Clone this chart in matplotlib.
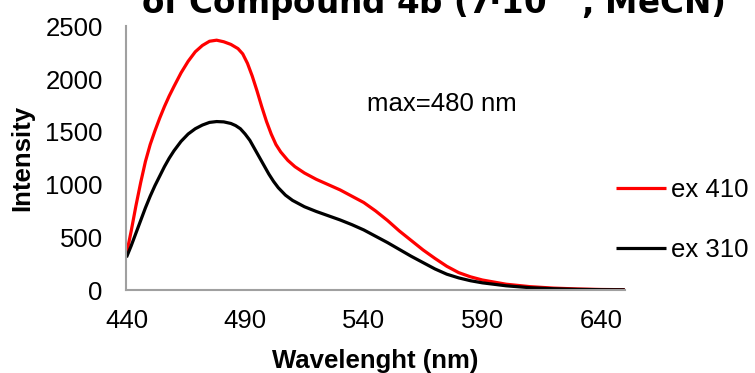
import matplotlib
matplotlib.use("Agg")
import matplotlib.pyplot as plt

plt.rcParams['font.family'] = ['Liberation Sans', 'DejaVu Sans']

wl_410 = [440, 442, 444, 446, 448, 450, 452, 454, 456, 458, 460, 463, 466, 469, 472,
          475, 478, 481, 484, 487, 489, 491, 493, 495, 497, 499, 501, 503, 505, 508,
          511, 515, 520, 525, 530, 535, 540, 545, 550, 555, 560, 565, 570, 575, 580,
          585, 590, 600, 610, 620, 630, 640, 650]
ex_410 = [340, 560, 800, 1020, 1220, 1380, 1510, 1630, 1740, 1840, 1930, 2060, 2170, 2260, 2320,
          2360, 2370, 2355, 2330, 2290, 2240, 2150, 2030, 1890, 1740, 1600, 1480, 1380, 1310, 1230,
          1170, 1110, 1050, 1000, 950, 890, 830, 750, 660, 560, 470, 380, 300, 225, 165,
          125, 95, 55, 32, 18, 10, 5, 3]

wl_310 = [440, 442, 444, 446, 448, 450, 452, 454, 456, 458, 460, 463, 466, 469, 472,
          475, 478, 481, 484, 486, 488, 490, 492, 494, 496, 498, 500, 502, 504, 507,
          510, 515, 520, 525, 530, 535, 540, 545, 550, 555, 560, 565, 570, 575, 580,
          585, 590, 600, 610, 620, 630, 640, 650]
ex_310 = [310, 420, 540, 660, 780, 890, 990, 1080, 1170, 1250, 1320, 1410, 1480, 1530, 1565,
          1590, 1598, 1595, 1580, 1560, 1530, 1480, 1420, 1340, 1260, 1180, 1100, 1030, 970, 900,
          850, 790, 745, 705, 665, 620, 570, 510, 450, 385, 320, 260, 200, 150, 115,
          88, 68, 40, 22, 12, 6, 3, 2]

x_ticks = [440, 490, 540, 590, 640]
y_ticks = [0, 500, 1000, 1500, 2000, 2500]

FS = 18.5

fig = plt.figure(figsize=(7.55, 3.73), dpi=100)
ax = fig.add_axes([0.1675, 0.2225, 0.66, 0.7065])

ax.plot(wl_410, ex_410, color='#ff0000', lw=2.3, label='ex 410', solid_capstyle='butt')
ax.plot(wl_310, ex_310, color='#000000', lw=2.3, label='ex 310', solid_capstyle='butt')

ax.set_xlim(440, 650)
ax.set_ylim(0, 2500)
ax.set_xticks(x_ticks)
ax.set_yticks(y_ticks)
ax.tick_params(length=0, labelsize=FS)
ax.tick_params(axis='x', pad=14)
ax.tick_params(axis='y', pad=17)
for s in ['top', 'right']:
    ax.spines[s].set_visible(False)
for s in ['left', 'bottom']:
    ax.spines[s].set_color('#a0a0a0')
    ax.spines[s].set_linewidth(1.5)

ax.set_xlabel('Wavelenght (nm)', fontsize=FS, fontweight='bold', labelpad=11)
ax.set_ylabel('Intensity', fontsize=FS, fontweight='bold', labelpad=8)

ax.text(573, 1768, 'max=480 nm', fontsize=FS, ha='center', va='center')

leg = fig.legend(loc='center left', bbox_to_anchor=(0.816, 0.41), frameon=False,
                 fontsize=FS, handlelength=1.95, handletextpad=0.2, labelspacing=1.42,
                 borderpad=0, borderaxespad=0)

fig.text(0.5735, 0.962, 'of Compound 4b (7·10$^{-6}$, MeCN)', fontsize=23.5,
         fontweight='bold', ha='center', va='baseline', family='DejaVu Sans')

fig.savefig('out.png', dpi=100)
